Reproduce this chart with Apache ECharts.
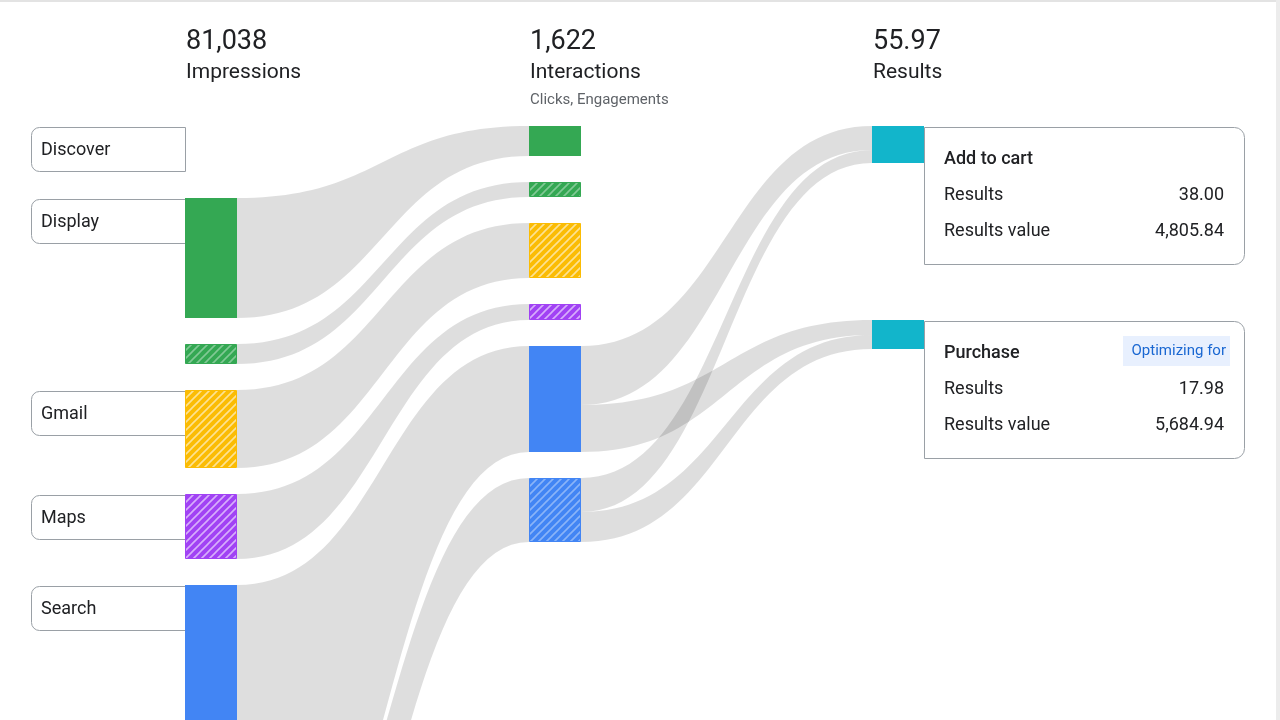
<!DOCTYPE html>
<html><head><meta charset="utf-8">
<script src="https://cdn.jsdelivr.net/npm/echarts@6/dist/echarts.min.js"></script>
<style>html,body{margin:0;padding:0;background:#fff}#c{width:1280px;height:720px}</style>
</head><body><div id="c"></div>
<script>
// ---------------- DATA ----------------
const stageTotals = ['81,038', '1,622', '55.97'];
const stageTitles = ['Impressions', 'Interactions', 'Results'];
const stageSubtitles = ['', 'Clicks, Engagements', ''];

const channelLabels = ['Discover', 'Display', '', 'Gmail', 'Maps', 'Search'];
const channelColors = ['none', 'green', 'green', 'yellow', 'purple', 'blue'];
const channelHatched = [false, false, true, true, true, false];
const channelHeights = [0, 120, 20, 78, 65, 521];

const interactionColors = ['green', 'green', 'yellow', 'purple', 'blue', 'blue'];
const interactionHatched = [false, true, true, true, false, true];
const interactionHeights = [30, 15, 55, 16, 106, 64];

const resultNames = ['Add to cart', 'Purchase'];
const resultCounts = ['38.00', '17.98'];
const resultValues = ['4,805.84', '5,684.94'];
const resultOptimizing = [false, true];
const resultHeights = [37, 29];

// channel -> interaction links
const linkA_source = [1, 2, 3, 4, 5, 5];
const linkA_target = [0, 1, 2, 3, 4, 5];
const linkA_out = [120, 20, 78, 65, 403, 118];
const linkA_in = [30, 15, 55, 16, 106, 64];
// interaction -> result links
const linkB_source = [4, 5, 4, 5];
const linkB_target = [0, 0, 1, 1];
const linkB_out = [59, 34, 47, 30];
const linkB_in = [24, 13, 15, 14];

// ---------------- STYLE / LAYOUT ----------------
const palette = {
  green: ['#34a853', '#81c995'],
  yellow: ['#fbbc04', '#fde293'],
  purple: ['#a142f4', '#d7aefb'],
  blue: ['#4285f4', '#8ab4f8'],
  cyan: ['#12b5cb', '#12b5cb']
};
const colX = [185, 529, 872];
const nodeW = 52;
const gap = 26;
const labelBoxH = 45;
const cardH = 137;
const cardSlot = 194;

function makePattern(base, stripe) {
  const c = document.createElement('canvas');
  c.width = 8; c.height = 8;
  const g = c.getContext('2d');
  g.fillStyle = base; g.fillRect(0, 0, 8, 8);
  g.strokeStyle = stripe; g.lineWidth = 1.6;
  g.beginPath();
  g.moveTo(-1, 9); g.lineTo(9, -1);
  g.moveTo(-4, 4); g.lineTo(4, -4);
  g.moveTo(4, 12); g.lineTo(12, 4);
  g.stroke();
  return { image: c, repeat: 'repeat' };
}
const patterns = {};
Object.keys(palette).forEach(k => patterns[k] = makePattern(palette[k][0], palette[k][1]));

function stack(heights, top, slotFn) {
  const tops = []; let y = top;
  heights.forEach((h, i) => { tops.push(y); y += slotFn(h, i) + gap; });
  return tops;
}
const col1Tops = stack(channelHeights, 127, (h, i) => Math.max(h, channelLabels[i] ? labelBoxH : 0));
const col2Tops = stack(interactionHeights, 126, h => h);
const col3Tops = resultHeights.map((h, i) => 126 + i * cardSlot);

// nodes: [x0, y0, x1, y1, colorKey, hatched]
const nodes = [];
channelHeights.forEach((h, i) => { if (h > 0) nodes.push([colX[0], col1Tops[i], colX[0] + nodeW, col1Tops[i] + h, channelColors[i], channelHatched[i]]); });
interactionHeights.forEach((h, i) => nodes.push([colX[1], col2Tops[i], colX[1] + nodeW, col2Tops[i] + h, interactionColors[i], interactionHatched[i]]));
resultHeights.forEach((h, i) => nodes.push([colX[2], col3Tops[i], colX[2] + nodeW, col3Tops[i] + h, 'cyan', false]));

// links: [x0, s0, s1, x1, t0, t1]
const links = [];
function buildLinks(src, tgt, outv, inv, srcTops, tgtTops, xs, xt) {
  const so = {}, to = {};
  src.forEach((s, k) => {
    const t = tgt[k];
    so[s] = so[s] || 0; to[t] = to[t] || 0;
    const s0 = srcTops[s] + so[s], s1 = s0 + outv[k];
    const t0 = tgtTops[t] + to[t], t1 = t0 + inv[k];
    so[s] += outv[k]; to[t] += inv[k];
    links.push([xs, s0, s1, xt, t0, t1]);
  });
}
buildLinks(linkA_source, linkA_target, linkA_out, linkA_in, col1Tops, col2Tops, colX[0] + nodeW, colX[1]);
buildLinks(linkB_source, linkB_target, linkB_out, linkB_in, col2Tops, col3Tops, colX[1] + nodeW, colX[2]);

const FONT = 'Roboto, "Noto Sans", sans-serif';

function bez(p0, p1, p2, p3, t) {
  const u = 1 - t;
  return u * u * u * p0 + 3 * u * u * t * p1 + 3 * u * t * t * p2 + t * t * t * p3;
}

const chart = echarts.init(document.getElementById('c'), null, { renderer: 'canvas' });
chart.setOption({
  animation: false,
  backgroundColor: '#fff',
  grid: { left: 0, right: 0, top: 0, bottom: 0 },
  xAxis: { type: 'value', min: 0, max: 1280, show: false },
  yAxis: { type: 'value', min: 0, max: 720, inverse: true, show: false },
  graphic: [
    { type: 'rect', shape: { x: 0, y: 0, width: 1280, height: 2 }, style: { fill: '#e3e3e3' }, z: 100 },
    { type: 'rect', shape: { x: 1276, y: 0, width: 4, height: 720 }, style: { fill: '#ececec' }, z: 100 }
  ],
  series: [
    { // links
      type: 'custom', coordinateSystem: 'cartesian2d', z: 1, clip: true,
      data: links.map((l, i) => i),
      renderItem: function (params, api) {
        const l = links[api.value(0)];
        const xm = (l[0] + l[3]) / 2;
        const N = 48, pts = [];
        for (let k = 0; k <= N; k++) {
          const t = k / N;
          pts.push(api.coord([bez(l[0], xm, xm, l[3], t), bez(l[1], l[1], l[4], l[4], t)]));
        }
        for (let k = N; k >= 0; k--) {
          const t = k / N;
          pts.push(api.coord([bez(l[0], xm, xm, l[3], t), bez(l[2], l[2], l[5], l[5], t)]));
        }
        return { type: 'polygon', shape: { points: pts }, style: { fill: 'rgba(0,0,0,0.13)' } };
      }
    },
    { // channel label boxes
      type: 'custom', coordinateSystem: 'cartesian2d', z: 2,
      data: channelLabels.map((l, i) => i).filter(i => channelLabels[i]),
      renderItem: function (params, api) {
        const i = api.value(0);
        const top = col1Tops[i] + (channelHeights[i] > 0 ? 1 : 0);
        const p0 = api.coord([31, top]);
        const p1 = api.coord([colX[0], top + 44]);
        return { type: 'group', children: [
          { type: 'rect', shape: { x: p0[0] + 0.5, y: p0[1] + 0.5, width: p1[0] - p0[0], height: p1[1] - p0[1], r: [8, 0, 0, 8] },
            style: { fill: '#fff', stroke: '#9aa0a6', lineWidth: 1 } },
          { type: 'text', style: { text: channelLabels[i], x: p0[0] + 10, y: (p0[1] + p1[1]) / 2 + 1, font: '18px ' + FONT, fill: '#202124', align: 'left', verticalAlign: 'middle' } }
        ] };
      }
    },
    { // nodes
      type: 'custom', coordinateSystem: 'cartesian2d', z: 3,
      data: nodes.map((n, i) => i),
      renderItem: function (params, api) {
        const n = nodes[api.value(0)];
        const p0 = api.coord([n[0], n[1]]), p1 = api.coord([n[2], n[3]]);
        const col = palette[n[4]][0];
        if (n[5]) {
          return { type: 'rect', shape: { x: p0[0] + 0.5, y: p0[1] + 0.5, width: p1[0] - p0[0] - 1, height: p1[1] - p0[1] - 1 },
            style: { fill: patterns[n[4]], stroke: col, lineWidth: 1 } };
        }
        return { type: 'rect', shape: { x: p0[0], y: p0[1], width: p1[0] - p0[0], height: p1[1] - p0[1] }, style: { fill: col } };
      }
    },
    { // result cards
      type: 'custom', coordinateSystem: 'cartesian2d', z: 2,
      data: resultNames.map((n, i) => i),
      renderItem: function (params, api) {
        const i = api.value(0);
        const ct = col3Tops[i] + 1;
        const p0 = api.coord([colX[2] + nodeW, ct]), p1 = api.coord([1244, ct + cardH]);
        const L = p0[0] + 20, R = p1[0] - 20;
        const ch = [
          { type: 'rect', shape: { x: p0[0] + 0.5, y: p0[1] + 0.5, width: p1[0] - p0[0], height: p1[1] - p0[1], r: [0, 10, 10, 0] },
            style: { fill: '#fff', stroke: '#9aa0a6', lineWidth: 1 } },
          { type: 'text', style: { text: resultNames[i], x: L, y: p0[1] + 32, font: '500 18px ' + FONT, fill: '#202124', align: 'left', verticalAlign: 'middle' } },
          { type: 'text', style: { text: 'Results', x: L, y: p0[1] + 68, font: '18px ' + FONT, fill: '#202124', align: 'left', verticalAlign: 'middle' } },
          { type: 'text', style: { text: resultCounts[i], x: R, y: p0[1] + 68, font: '18px ' + FONT, fill: '#202124', align: 'right', verticalAlign: 'middle' } },
          { type: 'text', style: { text: 'Results value', x: L, y: p0[1] + 104, font: '18px ' + FONT, fill: '#202124', align: 'left', verticalAlign: 'middle' } },
          { type: 'text', style: { text: resultValues[i], x: R, y: p0[1] + 104, font: '18px ' + FONT, fill: '#202124', align: 'right', verticalAlign: 'middle' } }
        ];
        if (resultOptimizing[i]) {
          ch.push({ type: 'rect', shape: { x: R - 101, y: p0[1] + 15, width: 107, height: 30 }, style: { fill: '#e8f0fe' } });
          ch.push({ type: 'text', style: { text: 'Optimizing for', x: R + 2, y: p0[1] + 30, font: '15px ' + FONT, fill: '#1967d2', align: 'right', verticalAlign: 'middle' } });
        }
        return { type: 'group', children: ch };
      }
    },
    { // stage headers
      type: 'custom', coordinateSystem: 'cartesian2d', z: 4,
      data: stageTitles.map((t, i) => i),
      renderItem: function (params, api) {
        const i = api.value(0);
        const p = api.coord([colX[i] + 1, 0]);
        const ch = [
          { type: 'text', style: { text: stageTotals[i], x: p[0], y: p[1] + 42, font: '27px ' + FONT, fill: '#202124', align: 'left', verticalAlign: 'middle' } },
          { type: 'text', style: { text: stageTitles[i], x: p[0], y: p[1] + 73, font: '21px ' + FONT, fill: '#202124', align: 'left', verticalAlign: 'middle' } }
        ];
        if (stageSubtitles[i]) ch.push({ type: 'text', style: { text: stageSubtitles[i], x: p[0], y: p[1] + 100, font: '15px ' + FONT, fill: '#5f6368', align: 'left', verticalAlign: 'middle' } });
        return { type: 'group', children: ch };
      }
    }
  ]
});
</script></body></html>
